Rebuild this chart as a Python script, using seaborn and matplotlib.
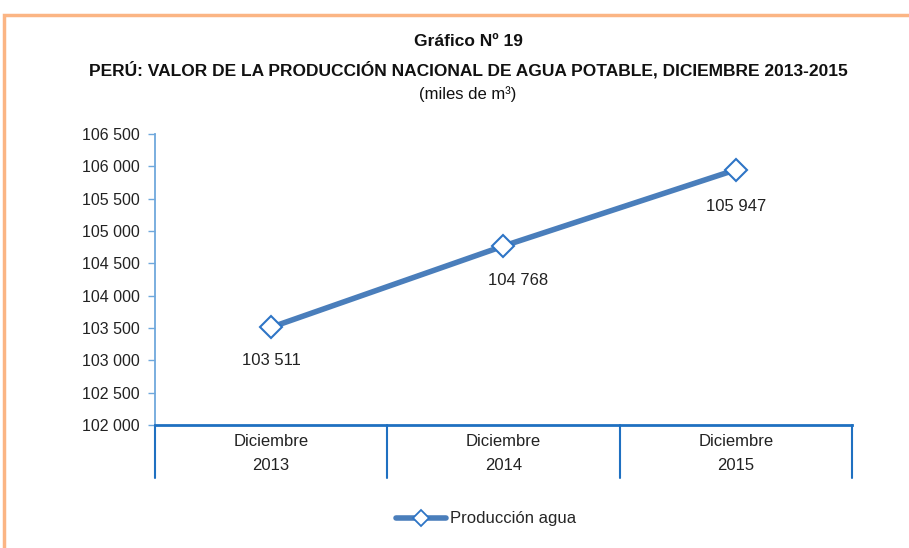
import matplotlib
matplotlib.use("Agg")
import matplotlib.pyplot as plt
import seaborn as sns
import pandas as pd
from matplotlib.patches import Rectangle
from matplotlib.lines import Line2D
import matplotlib.transforms as mtransforms

categories = ["Diciembre\n2013", "Diciembre\n2014", "Diciembre\n2015"]
values = [103511, 104768, 105947]
labels = ["103 511", "104 768", "105 947"]
yticks = [102000, 102500, 103000, 103500, 104000, 104500, 105000, 105500, 106000, 106500]
series_name = "Producción agua"

sns.set_theme(style="white")
plt.rcParams['font.family'] = ['Liberation Sans Narrow', 'Liberation Sans', 'DejaVu Sans']

df = pd.DataFrame({"cat": categories, "val": values, "serie": series_name})

fig = plt.figure(figsize=(9.09, 5.48), dpi=100)
ax = fig.add_axes([155/909, 1-425/548, 697/909, 291/548])

line_color = "#4a7ebb"
sns.lineplot(data=df, x="cat", y="val", hue="serie", palette=[line_color], ax=ax,
             linewidth=4, marker="D", markersize=11, markerfacecolor="white",
             markeredgecolor="#2e75c6", markeredgewidth=1.5, sort=False, legend=False)

ax.set_xlim(-0.5, 2.5)
ax.set_ylim(102000, 106500)
ax.set_yticks(yticks)
ax.set_yticklabels([f"{v:,}".replace(",", " ") for v in yticks], fontsize=11.5, color="#222222")
ax.set_xticks([])
ax.set_xlabel("")
ax.set_ylabel("")
for s in ["top", "right"]:
    ax.spines[s].set_visible(False)
ax.spines["left"].set_color("#6fa8dc")
ax.spines["left"].set_linewidth(1.3)
ax.spines["bottom"].set_color("#1f70c1")
ax.spines["bottom"].set_linewidth(2)
ax.tick_params(axis="y", left=True, length=5, width=1, color="#6fa8dc", pad=6)

# category separators and labels
trans = mtransforms.blended_transform_factory(ax.transData, ax.transAxes)
depth = (478-425)/291
for xb in [-0.5, 0.5, 1.5, 2.5]:
    ax.plot([xb, xb], [0, -depth], transform=trans, color="#1f70c1", lw=1.5, clip_on=False)
for i, c in enumerate(categories):
    top, bottom = c.split("\n")
    ax.text(i, -(441-425)/291, top, transform=trans, ha="center", va="center", fontsize=12, color="#222222")
    ax.text(i, -(466-425)/291, bottom, transform=trans, ha="center", va="center", fontsize=12, color="#222222")

# data labels
offsets = [(0, -33), (15, -34), (0, -37)]
for i, (v, lab) in enumerate(zip(values, labels)):
    ax.annotate(lab, (i, v), xytext=offsets[i], textcoords="offset pixels",
                ha="center", va="center", fontsize=12, color="#222222")

# titles
fig.text(468/909, 1-42/548, "Gráfico Nº 19", ha="center", va="center", fontsize=12.5, fontweight="bold", color="#111111")
fig.text(468/909, 1-70/548, "PERÚ: VALOR DE LA PRODUCCIÓN NACIONAL DE AGUA POTABLE, DICIEMBRE 2013-2015",
         ha="center", va="center", fontsize=12.5, fontweight="bold", color="#111111")
fig.text(468/909, 1-94/548, "(miles de m³)", ha="center", va="center", fontsize=12, color="#111111")

# legend
handle = Line2D([0], [0], color=line_color, lw=4, marker="D", markersize=8,
                markerfacecolor="white", markeredgecolor="#2e75c6", markeredgewidth=1.3)
fig.legend([handle], [series_name], loc="center", bbox_to_anchor=(486/909, 1-519/548),
           frameon=False, fontsize=12, handlelength=3.0, handletextpad=0.2)

# orange frame
fig.add_artist(Rectangle((4/909, -0.05), 1.0, 1-15/548+0.05, transform=fig.transFigure,
                         fill=False, edgecolor="#fbb584", lw=2.5, clip_on=False))

fig.savefig("out.png", dpi=100, facecolor="white")
